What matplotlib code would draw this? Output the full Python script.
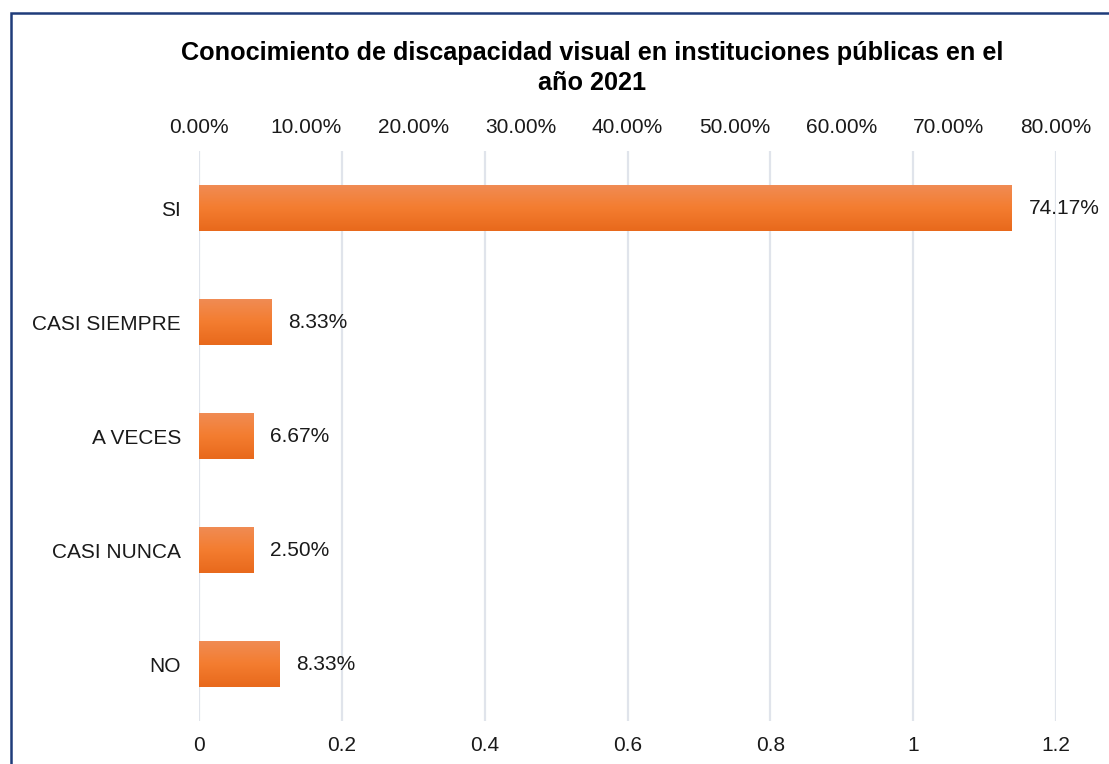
import numpy as np
import matplotlib.pyplot as plt
from matplotlib.colors import LinearSegmentedColormap
from matplotlib.patches import Rectangle

plt.rcParams['font.family'] = ['Liberation Sans', 'DejaVu Sans']

# data
categories = ['SI', 'CASI SIEMPRE', 'A VECES', 'CASI NUNCA', 'NO']
bar_values = [1.138, 0.101, 0.076, 0.076, 0.113]   # length on the bottom axis
bar_labels = ['74.17%', '8.33%', '6.67%', '2.50%', '8.33%']
bottom_ticks = [0, 0.2, 0.4, 0.6, 0.8, 1.0, 1.2]
bottom_tick_labels = ['0', '0.2', '0.4', '0.6', '0.8', '1', '1.2']
top_ticks = [0, 0.1, 0.2, 0.3, 0.4, 0.5, 0.6, 0.7, 0.8]
title = 'Conocimiento de discapacidad visual en instituciones públicas en el\naño 2021'

W, H = 1109, 764
fig = plt.figure(figsize=(W / 100, H / 100), dpi=100)
ax = fig.add_axes([199 / W, 1 - 721 / H, (1056 - 199) / W, (721 - 151) / H])

y = np.arange(len(categories))
bars = ax.barh(y, bar_values, height=0.41, color='#F47D30', zorder=2)

# vertical gradient inside each bar
cmap = LinearSegmentedColormap.from_list('org', ['#F08C55', '#F47D30', '#E8691C'])
grad = np.linspace(0, 1, 100).reshape(-1, 1)
for b in bars:
    x0, y0 = b.get_x(), b.get_y()
    im = ax.imshow(grad, cmap=cmap, aspect='auto', zorder=3,
                   extent=(x0, x0 + b.get_width(), y0 + b.get_height(), y0),
                   origin='upper')
    im.set_clip_path(b)

for b, lab in zip(bars, bar_labels):
    ax.annotate(lab, (b.get_width(), b.get_y() + b.get_height() / 2),
                xytext=(12, 0), textcoords='offset points', va='center',
                ha='left', fontsize=15, color='#1a1a1a', zorder=4)

ax.set_xlim(0, 1.2)
ax.set_ylim(len(categories) - 0.5, -0.5)
ax.set_yticks(y)
ax.set_yticklabels(categories)
ax.set_xticks(bottom_ticks)
ax.set_xticklabels(bottom_tick_labels)
ax.tick_params(axis='both', length=0, labelsize=15, colors='#1a1a1a')
ax.tick_params(axis='x', pad=11)
ax.tick_params(axis='y', pad=13)
ax.grid(axis='x', color='#E0E4EB', linewidth=1.6, zorder=0)
ax.set_axisbelow(True)
for s in ax.spines.values():
    s.set_visible(False)

top = ax.twiny()
top.set_xlim(0, 0.8)
top.set_xticks(top_ticks)
top.set_xticklabels([f'{t * 100:.2f}%' for t in top_ticks])
top.tick_params(axis='x', length=0, labelsize=15, colors='#1a1a1a', pad=10)
for s in top.spines.values():
    s.set_visible(False)

fig.text(592 / W, 1 - 68 / H, title, ha='center', va='center',
         fontsize=18.2, fontweight='bold', linespacing=1.3)

fig.patches.append(Rectangle((11 / W, -0.1), 1.2, 1.1 - 13 / H,
                             transform=fig.transFigure, fill=False,
                             edgecolor='#1F3C7A', linewidth=1.8))

fig.savefig('out.png', dpi=100)
